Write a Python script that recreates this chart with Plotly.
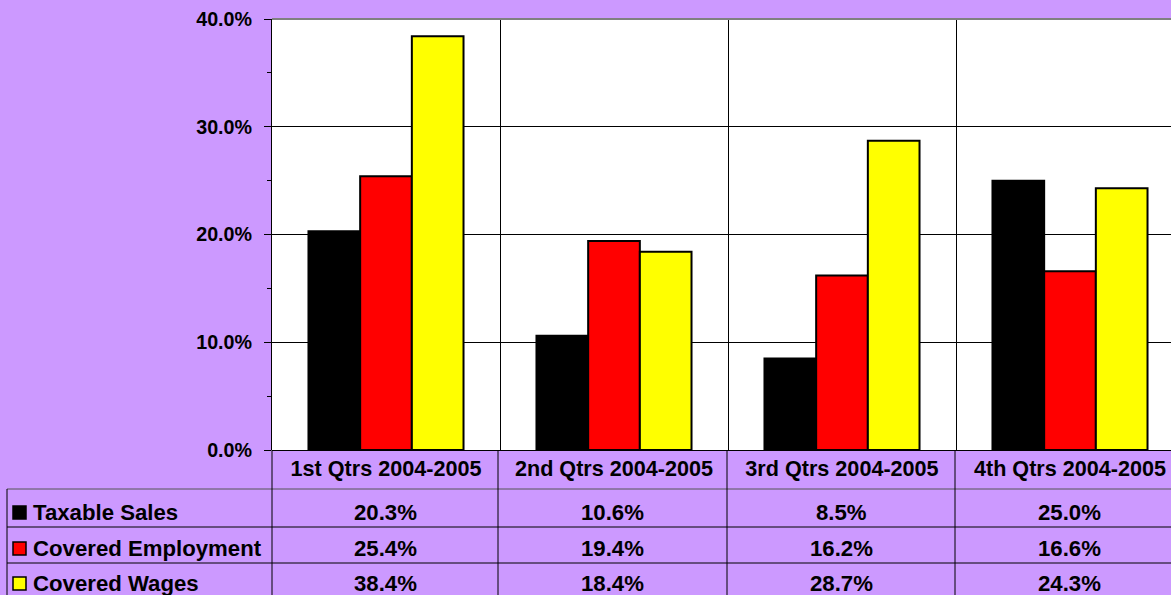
import plotly.graph_objects as go

categories = ["1st Qtrs 2004-2005", "2nd Qtrs 2004-2005", "3rd Qtrs 2004-2005", "4th Qtrs 2004-2005"]
series_names = ["Taxable Sales", "Covered Employment", "Covered Wages"]
taxable_sales = [20.3, 10.6, 8.5, 25.0]
covered_employment = [25.4, 19.4, 16.2, 16.6]
covered_wages = [38.4, 18.4, 28.7, 24.3]
colors = ["#000000", "#FF0000", "#FFFF00"]
y_ticks = [0, 10, 20, 30, 40]

W, H = 1171, 595
BG = "#CC99FF"
FONT = "Arial, Liberation Sans, sans-serif"
TICK_SIZE = 19.7
CAT_SIZE = 21.6
TABLE_SIZE = 22.2


def X(px):
    return px / W


def Y(py):
    return 1 - py / H


series_values = [taxable_sales, covered_employment, covered_wages]

fig = go.Figure()
for name, vals, col in zip(series_names, series_values, colors):
    fig.add_trace(go.Bar(
        x=categories, y=vals, name=name,
        marker=dict(color=col, line=dict(color="#000000", width=2)),
        showlegend=False,
    ))

plot_left, plot_top, plot_bottom = 272, 19, 450
cat_w = 228.0
x_end = -0.5 + (W - plot_left) / cat_w

fig.update_layout(
    width=W, height=H,
    margin=dict(l=0, r=0, t=0, b=0),
    paper_bgcolor=BG, plot_bgcolor="#FFFFFF",
    barmode="group", bargap=0.32, bargroupgap=0,
    font=dict(family=FONT, size=16, color="#000000"),
    xaxis=dict(
        domain=[X(plot_left), 1], range=[-0.5, x_end],
        tickson="boundaries", showgrid=True, gridcolor="#000000", gridwidth=1,
        ticks="", showline=False, zeroline=False,
        tickfont=dict(family=FONT, size=CAT_SIZE, color="#000000", weight="bold"),
        ticklabelstandoff=3, automargin=False,
    ),
    yaxis=dict(
        domain=[Y(plot_bottom), Y(plot_top)], range=[0, 40],
        tickvals=y_ticks, ticktext=[f"{v:.1f}%" for v in y_ticks],
        ticks="outside", ticklen=7, tickcolor="#000000", tickwidth=1,
        showline=True, linecolor="#000000", linewidth=1,
        showgrid=True, gridcolor="#000000", gridwidth=1,
        zeroline=True, zerolinecolor="#000000", zerolinewidth=1,
        minor=dict(dtick=5, ticks="outside", ticklen=4, tickcolor="#000000", showgrid=False),
        tickfont=dict(family=FONT, size=TICK_SIZE, color="#000000", weight="bold"),
        ticklabelstandoff=8, automargin=False,
    ),
)

shapes = []
shapes.append(dict(type="line", xref="paper", yref="paper", x0=X(plot_left), x1=1,
                   y0=Y(plot_top), y1=Y(plot_top), line=dict(color="#808080", width=2)))
row_lines = [489, 527, 563]
for i, ry in enumerate(row_lines):
    shapes.append(dict(type="line", xref="paper", yref="paper", x0=X(7), x1=1,
                       y0=Y(ry), y1=Y(ry),
                       line=dict(color="#555555" if i == 0 else "#000000", width=1)))
shapes.append(dict(type="line", xref="paper", yref="paper", x0=X(7), x1=X(7),
                   y0=Y(489), y1=0, line=dict(color="#000000", width=1)))
for bx in [plot_left, 498, 727, 955]:
    shapes.append(dict(type="line", xref="paper", yref="paper", x0=X(bx), x1=X(bx),
                       y0=Y(plot_bottom), y1=0, line=dict(color="#000000", width=1)))

annotations = []
row_centers = [512, 548, 583]
col_centers = [385, 612, 841, 1069]
for name, vals, col, rc in zip(series_names, series_values, colors, row_centers):
    shapes.append(dict(type="rect", xref="paper", yref="paper",
                       x0=X(13), x1=X(26), y0=Y(rc + 7), y1=Y(rc - 6),
                       fillcolor=col, line=dict(color="#000000", width=1.5)))
    annotations.append(dict(x=X(31), y=Y(rc), xref="paper", yref="paper",
                            text=f"<b>{name}</b>", showarrow=False,
                            xanchor="left", yanchor="middle",
                            font=dict(family=FONT, size=TABLE_SIZE, color="#000000")))
    for v, cc in zip(vals, col_centers):
        annotations.append(dict(x=X(cc), y=Y(rc), xref="paper", yref="paper",
                                text=f"<b>{v:.1f}%</b>", showarrow=False,
                                xanchor="center", yanchor="middle",
                                font=dict(family=FONT, size=TABLE_SIZE, color="#000000")))

fig.update_layout(shapes=shapes, annotations=annotations)
fig.write_html("out.html", config={"displayModeBar": False},
               post_script="document.body.style.margin='0';document.body.style.overflow='hidden';")
